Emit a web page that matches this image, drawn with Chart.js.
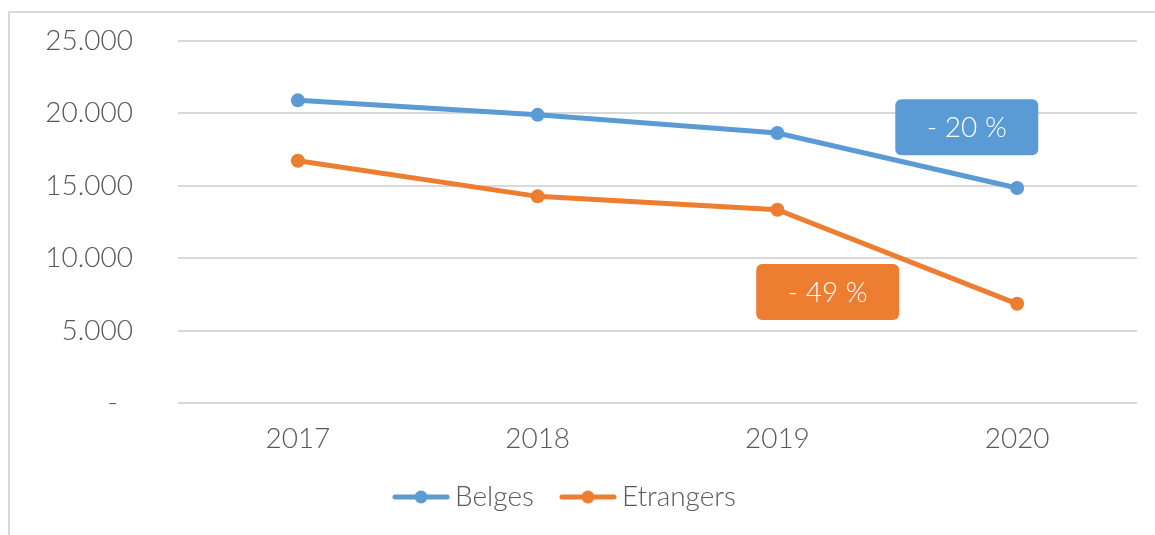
<!DOCTYPE html>
<html>
<head>
<meta charset="utf-8">
<script src="https://cdn.jsdelivr.net/npm/chart.js@4"></script>
<style>
  html, body { margin: 0; padding: 0; background: #fff; }
  #wrap { width: 1155px; height: 535px; position: relative; }
</style>
</head>
<body>
<div id="wrap"><canvas id="evolution"></canvas></div>
<script>
var years = ['2017', '2018', '2019', '2020'];
var belges = [20900, 19900, 18650, 14850];
var etrangers = [16730, 14270, 13350, 6850];
var yTicks = [0, 5000, 10000, 15000, 20000, 25000];

// callouts: text, position along the category axis (index) and value axis
var calloutText = ['- 20 %', '- 49 %'];
var calloutX = [2.79, 2.21];
var calloutY = [19050, 7660];

var blue = '#5B9BD5';
var orange = '#ED7D31';
var grey = '#595959';
var fontFamily = 'Lato, "Open Sans", sans-serif';

// little line+dot image for the legend
function legendMark(color) {
  var c = document.createElement('canvas');
  c.width = 58; c.height = 16;
  var g = c.getContext('2d');
  g.strokeStyle = color;
  g.lineWidth = 5;
  g.lineCap = 'round';
  g.beginPath(); g.moveTo(3, 8); g.lineTo(55, 8); g.stroke();
  g.fillStyle = color;
  g.beginPath(); g.arc(29, 8, 6.5, 0, Math.PI * 2); g.fill();
  return c;
}

var frame = {
  id: 'frame',
  beforeDraw: function(chart) {
    var c = chart.ctx;
    c.save();
    c.strokeStyle = '#d9d9d9';
    c.lineWidth = 2;
    c.beginPath();
    c.moveTo(9, 535); c.lineTo(9, 12); c.lineTo(1155, 12);
    c.stroke();
    c.restore();
  }
};

var callouts = {
  id: 'callouts',
  afterDatasetsDraw: function(chart) {
    var c = chart.ctx;
    var xs = chart.scales.x, ys = chart.scales.y;
    var colors = [blue, orange];
    c.save();
    for (var i = 0; i < calloutText.length; i++) {
      var cx = xs.getPixelForValue(calloutX[i]);
      var cy = ys.getPixelForValue(calloutY[i]);
      var w = 143, h = 56;
      c.fillStyle = colors[i];
      c.beginPath();
      c.roundRect(cx - w / 2, cy - h / 2, w, h, 6);
      c.fill();
      c.fillStyle = '#fff';
      c.font = '300 28px ' + fontFamily;
      c.textAlign = 'center';
      c.textBaseline = 'middle';
      c.fillText(calloutText[i], cx, cy + 1);
    }
    c.restore();
  }
};

var ctx = document.getElementById('evolution');
var evolution = new Chart(ctx, {
  type: 'line',
  data: {
    labels: years,
    datasets: [{
      label: 'Belges',
      data: belges,
      borderColor: blue,
      backgroundColor: blue,
      borderWidth: 5,
      pointRadius: 7,
      pointHoverRadius: 7,
      pointBorderWidth: 0,
      tension: 0
    }, {
      label: 'Etrangers',
      data: etrangers,
      borderColor: orange,
      backgroundColor: orange,
      borderWidth: 5,
      pointRadius: 7,
      pointHoverRadius: 7,
      pointBorderWidth: 0,
      tension: 0
    }]
  },
  options: {
    responsive: true,
    maintainAspectRatio: false,
    animation: false,
    layout: { padding: { top: 41, right: 18, bottom: 14, left: 0 } },
    scales: {
      x: {
        offset: true,
        grid: { display: false, drawTicks: false },
        border: { display: false },
        ticks: { color: grey, padding: 19, font: { family: fontFamily, size: 28, weight: 300 } },
        afterFit: function(scale) { scale.height = 46; }
      },
      y: {
        min: 0,
        max: 25000,
        afterBuildTicks: function(scale) {
          scale.ticks = yTicks.map(function(v) { return { value: v }; });
        },
        grid: { color: '#d9d9d9', lineWidth: 2, drawTicks: false },
        border: { display: false },
        ticks: {
          color: grey,
          padding: 45,
          font: { family: fontFamily, size: 28, weight: 300 },
          callback: function(v) {
            if (v === 0) return '-  ';
            return v.toLocaleString('de-DE');
          }
        },
        afterFit: function(scale) {
          scale.width = 178;
          scale.paddingTop = 0;
          scale.paddingBottom = 0;
        }
      }
    },
    plugins: {
      tooltip: { enabled: false },
      legend: {
        position: 'bottom',
        labels: {
          usePointStyle: true,
          pointStyleWidth: 40,
          padding: 34,
          color: grey,
          font: { family: fontFamily, size: 28, weight: 300 },
          generateLabels: function(chart) {
            return chart.data.datasets.map(function(ds, i) {
              return {
                text: ds.label,
                pointStyle: legendMark(ds.borderColor),
                fontColor: grey,
                datasetIndex: i,
                hidden: false,
                lineWidth: 0
              };
            });
          }
        }
      }
    }
  },
  plugins: [frame, callouts]
});
</script>
</body>
</html>
